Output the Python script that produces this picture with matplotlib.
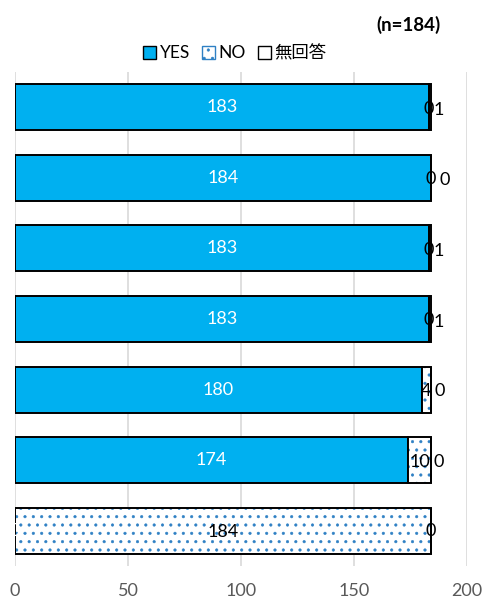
import matplotlib
matplotlib.use("Agg")
import matplotlib.pyplot as plt
import matplotlib.hatch as mh
from matplotlib.patches import Patch
import numpy as np


class SparseDots(mh.SmallFilledCircles):
    size = 0.15

    def __init__(self, hatch, density):
        self.num_rows = hatch.count('.') * 12
        mh.Circles.__init__(self, hatch, density)


mh._hatch_types = [SparseDots if t is mh.SmallFilledCircles else t for t in mh._hatch_types]

plt.rcParams['font.family'] = ['Lato', 'Noto Sans CJK JP', 'DejaVu Sans']
plt.rcParams['hatch.linewidth'] = 0.4

categories = ['Q1', 'Q2', 'Q3', 'Q4', 'Q5', 'Q6', 'Q7']
yes_vals = [183, 184, 183, 183, 180, 174, 0]
no_vals = [0, 0, 0, 0, 4, 10, 184]
na_vals = [1, 0, 1, 1, 0, 0, 0]
series_names = ['YES', 'NO', '無回答']
xticks = [0, 50, 100, 150, 200]
title = '(n=184)'

# label nudges (points) for the 無回答 labels, as Excel shifts them
na_label_dx = [6.5, 10, 6.5, 6.5, 6.5, 6, 0]
na_label_dy = [-2, -1.5, -2, -2, -1, -1, 0]

blue = '#00B0F0'
dot = '#2E80C4'

fig = plt.figure(figsize=(4.87, 6.03), dpi=100)
ax = fig.add_axes([15/487, 37/603, 452/487, 494/603])

y = np.arange(len(categories))
h = 0.65
yes = np.array(yes_vals); no = np.array(no_vals); na = np.array(na_vals)

ax.barh(y, yes, height=h, color=blue, edgecolor='black', linewidth=1.4, zorder=3)
ax.barh(y, no, left=yes, height=h, color='white', edgecolor=dot, linewidth=0, hatch='.', zorder=3)
ax.barh(y, no, left=yes, height=h, color='none', edgecolor='black', linewidth=1.4, zorder=4)
ax.barh(y, na, left=yes + no, height=h, color='white', edgecolor='black', linewidth=1.4, zorder=3)

for i in range(len(categories)):
    ax.text(yes[i] / 2, y[i], str(yes[i]), color='white', ha='center', va='center', fontsize=13, zorder=5)
    ax.annotate(str(no[i]), (yes[i] + no[i] / 2, y[i]), xytext=(0, -1), textcoords='offset points',
                ha='center', va='center', fontsize=13, color='black', zorder=5)
    ax.annotate(str(na[i]), (yes[i] + no[i] + na[i] / 2, y[i]), xytext=(na_label_dx[i], na_label_dy[i]),
                textcoords='offset points', ha='center', va='center', fontsize=13, color='black', zorder=5)

ax.set_xlim(0, 200)
ax.set_ylim(len(categories) - 0.5, -0.5)
ax.set_xticks(xticks)
ax.set_yticks([])
ax.grid(axis='x', color='#D9D9D9', linewidth=1.2, zorder=0)
for s in ax.spines.values():
    s.set_visible(False)
ax.tick_params(axis='x', length=0, labelsize=13, labelcolor='#595959', pad=12)

handles = [Patch(facecolor=blue, edgecolor='black', label=series_names[0]),
           Patch(facecolor='white', edgecolor=dot, hatch='.', label=series_names[1]),
           Patch(facecolor='white', edgecolor='black', label=series_names[2])]
leg = fig.legend(handles=handles, loc='center', bbox_to_anchor=(235/487, 1 - 53/603), ncol=3, frameon=False,
                 fontsize=12.5, handlelength=0.75, handleheight=0.75, handletextpad=0.2, columnspacing=0.7)
fig.text(441/487, 1 - 25/603, title, ha='right', va='center', fontsize=13.5, fontweight='bold')

fig.savefig('out.png', dpi=100)
